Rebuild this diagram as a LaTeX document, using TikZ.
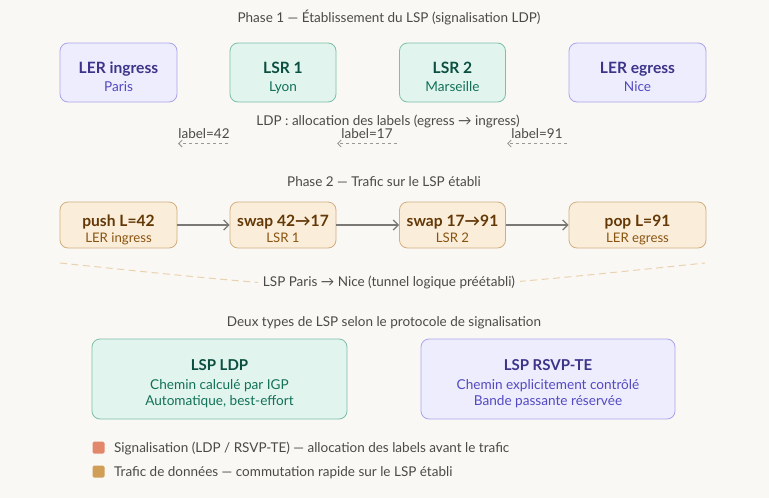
\documentclass[tikz,border=0pt]{standalone}
\usepackage{fontspec}
\setmainfont{Lato}
\usetikzlibrary{arrows.meta}
\definecolor{bg}{HTML}{F9F8F5}
\definecolor{txt}{HTML}{4B4A46}
\definecolor{pfill}{HTML}{EEEDFE}
\definecolor{pdraw}{HTML}{AAA4EC}
\definecolor{ptitle}{HTML}{3C3489}
\definecolor{psub}{HTML}{5349C0}
\definecolor{gfill}{HTML}{E1F5EE}
\definecolor{gdraw}{HTML}{7DBFA8}
\definecolor{gtitle}{HTML}{0B4F40}
\definecolor{gsub}{HTML}{137057}
\definecolor{ofill}{HTML}{FAEEDA}
\definecolor{odraw}{HTML}{D2AE80}
\definecolor{otitle}{HTML}{633806}
\definecolor{osub}{HTML}{8A530F}
\definecolor{arr}{HTML}{7A7975}
\definecolor{darr}{HTML}{9A9995}
\definecolor{tunnel}{HTML}{EBD2AE}
\definecolor{legA}{HTML}{E2876C}
\definecolor{legB}{HTML}{D19E58}
\tikzset{
  box/.style={rounded corners=8pt, line width=0.8pt, inner sep=0pt},
  pbox/.style={box, fill=pfill, draw=pdraw},
  gbox/.style={box, fill=gfill, draw=gdraw},
  obox/.style={box, fill=ofill, draw=odraw},
  ttl/.style={anchor=base, inner sep=0pt, font=\fontsize{15.6}{18}\selectfont\bfseries},
  subt/.style={anchor=base, inner sep=0pt, font=\fontsize{13.6}{16}\selectfont},
  osubt/.style={anchor=base, inner sep=0pt, font=\fontsize{13.2}{15}\selectfont},
  lbl/.style={anchor=base, inner sep=0pt, text=txt, font=\fontsize{13.5}{16}\selectfont},
  flow/.style={draw=arr, line width=1.3pt, -{Straight Barb[length=5pt,width=10pt,line width=1.3pt]}},
  sig/.style={draw=darr, line width=1pt, dash pattern=on 3.5pt off 2.5pt, -{Straight Barb[length=3.5pt,width=7pt,line width=1pt]}},
}
\begin{document}
\begin{tikzpicture}[x=1pt,y=-1pt]
\fill[bg] (0,0) rectangle (769,498);
\useasboundingbox (0,0) rectangle (769,498);

% Phase 1
\node[lbl] (t1) at (389,22) {Phase 1 — Établissement du LSP (signalisation LDP)};
\node[pbox, minimum width=117, minimum height=59] (a1) at (118.5,72.5) {};
\node[gbox, minimum width=106, minimum height=59] (b1) at (283,72.5) {};
\node[gbox, minimum width=106, minimum height=59] (c1) at (452.5,72.5) {};
\node[pbox, minimum width=137, minimum height=59] (d1) at (637.5,72.5) {};
\node[ttl, text=ptitle] (a1t) at (118.5,73.3) {LER ingress};
\node[subt, text=psub] (a1s) at (118.5,91.5) {Paris};
\node[ttl, text=gtitle] (b1t) at (283,73.3) {LSR 1};
\node[subt, text=gsub] (b1s) at (283,91.5) {Lyon};
\node[ttl, text=gtitle] (c1t) at (452.5,73.3) {LSR 2};
\node[subt, text=gsub] (c1s) at (452.5,91.5) {Marseille};
\node[ttl, text=ptitle] (d1t) at (637.5,73.3) {LER egress};
\node[subt, text=psub] (d1s) at (637.5,91.5) {Nice};

\node[lbl] (ldp) at (388,125) {LDP : allocation des labels (egress → ingress)};
\node[lbl] (l42) at (204,138.2) {label=42};
\node[lbl] (l17) at (367,138.2) {label=17};
\node[lbl] (l91) at (537,138.2) {label=91};
\coordinate (s42a) at (228,143.5); \coordinate (s42b) at (178,143.5);
\coordinate (s17a) at (397,143.5); \coordinate (s17b) at (337,143.5);
\coordinate (s91a) at (567,143.5); \coordinate (s91b) at (507,143.5);
\draw[sig] (s42a) -- (s42b);
\draw[sig] (s17a) -- (s17b);
\draw[sig] (s91a) -- (s91b);

% Phase 2
\node[lbl] (t2) at (384,186) {Phase 2 — Trafic sur le LSP établi};
\node[obox, minimum width=117, minimum height=46] (a2) at (118.5,225) {};
\node[obox, minimum width=106, minimum height=46] (b2) at (283,225) {};
\node[obox, minimum width=106, minimum height=46] (c2) at (452.5,225) {};
\node[obox, minimum width=137, minimum height=46] (d2) at (637.5,225) {};
\node[ttl, text=otitle] (a2t) at (118.5,226.5) {push L=42};
\node[osubt, text=osub] (a2s) at (118.5,242.7) {LER ingress};
\node[ttl, text=otitle] (b2t) at (283,226.5) {swap 42→17};
\node[osubt, text=osub] (b2s) at (283,242.7) {LSR 1};
\node[ttl, text=otitle] (c2t) at (452.5,226.5) {swap 17→91};
\node[osubt, text=osub] (c2s) at (452.5,242.7) {LSR 2};
\node[ttl, text=otitle] (d2t) at (637.5,226.5) {pop L=91};
\node[osubt, text=osub] (d2s) at (637.5,242.7) {LER egress};
\draw[flow] (a2.east) -- (b2.west);
\draw[flow] (b2.east) -- (c2.west);
\draw[flow] (c2.east) -- (d2.west);

% tunnel
\coordinate (tn1) at (60,263);
\coordinate (tn2) at (705,263);
\draw[tunnel, line width=1pt, dash pattern=on 7pt off 4.5pt] (tn1) .. controls (382.5,296.6) .. (tn2);
\node[lbl, fill=bg, inner sep=5pt, anchor=base] (tn) at (389,286) {LSP Paris → Nice (tunnel logique préétabli)};

% Types
\node[lbl] (t3) at (384,326.7) {Deux types de LSP selon le protocole de signalisation};
\node[gbox, minimum width=255, minimum height=80] (e) at (219.5,379) {};
\node[pbox, minimum width=254, minimum height=80] (f) at (548,379) {};
\node[ttl, text=gtitle, font=\fontsize{15}{17}\selectfont\bfseries] (et) at (219.5,370) {LSP LDP};
\node[subt, text=gsub] (es1) at (219.5,389.3) {Chemin calculé par IGP};
\node[subt, text=gsub] (es2) at (219.5,405.5) {Automatique, best-effort};
\node[ttl, text=ptitle, font=\fontsize{15}{17}\selectfont\bfseries] (ft) at (548,370) {LSP RSVP-TE};
\node[subt, text=psub] (fs1) at (548,389.3) {Chemin explicitement contrôlé};
\node[subt, text=psub] (fs2) at (548,405.5) {Bande passante réservée};

% Legend
\node[fill=legA, rounded corners=1.5pt, minimum size=12pt, inner sep=0pt] (la) at (98.5,447.5) {};
\node[fill=legB, rounded corners=1.5pt, minimum size=12pt, inner sep=0pt] (lb) at (98.5,471.5) {};
\node[lbl, anchor=base west] (lat) at (114,452.7) {Signalisation (LDP / RSVP-TE) — allocation des labels avant le trafic};
\node[lbl, anchor=base west] (lbt) at (114,476) {Trafic de données — commutation rapide sur le LSP établi};
\end{tikzpicture}
\end{document}
